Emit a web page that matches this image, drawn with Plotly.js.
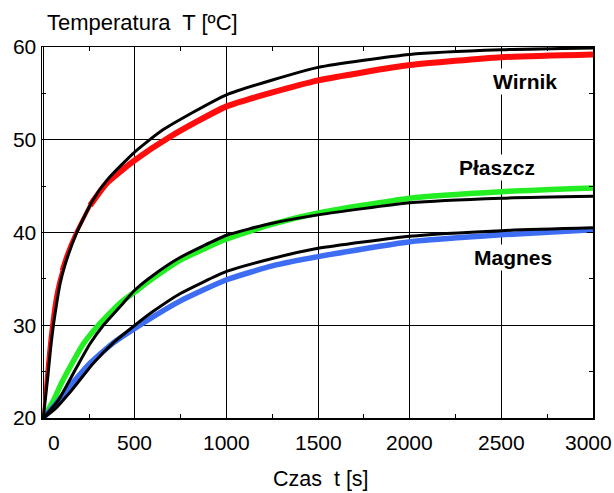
<!DOCTYPE html>
<html>
<head>
<meta charset="utf-8">
<script src="https://cdn.plot.ly/plotly-3.0.1.min.js"></script>
<style>html,body{margin:0;padding:0;background:#fff;}#chart{width:614px;height:493px;}</style>
</head>
<body>
<div id="chart"></div>
<script>
// Wirnik (rotor) – measured and fitted
var wirnikMeasT = [0, 8, 20, 35, 50, 65, 82, 100, 130, 175, 255, 345, 500, 690, 1000, 1500, 2000, 2500, 3000];
var wirnikMeasV = [20, 22.5, 25.5, 28.5, 31, 33, 34.6, 35.9, 37.7, 39.8, 42.9, 45.3, 47.8, 50.3, 53.6, 56.4, 58.05, 58.9, 59.2];
var wirnikFitT = [0, 10, 25, 40, 55, 75, 92, 120, 183, 268, 350, 500, 655, 1000, 1500, 2000, 2500, 3000];
var wirnikFitV = [20, 21.8, 24.5, 27.5, 30, 32.6, 34.5, 36.6, 40, 43.4, 45.7, 48.7, 51.1, 54.85, 57.8, 59.2, 59.7, 59.9];

// Płaszcz (housing) – measured and fitted
var plaszczMeasT = [0, 56, 100, 146, 219, 300, 419, 500, 580, 746, 1000, 1250, 1500, 2000, 2500, 3000];
var plaszczMeasV = [20, 21.9, 23.8, 25.5, 28.0, 30.0, 32.4, 33.6, 34.8, 37.0, 39.3, 40.9, 42.1, 43.7, 44.4, 44.8];
var plaszczFitT = [0, 82, 183, 255, 328, 437, 500, 600, 746, 1000, 1250, 1500, 2000, 2500, 3000];
var plaszczFitV = [20, 21.9, 25.5, 28.0, 30.0, 32.4, 33.8, 35.4, 37.3, 39.7, 41.0, 41.9, 43.2, 43.7, 43.9];

// Magnes (magnet) – measured and fitted
var magnesMeasT = [0, 55, 128, 255, 382, 510, 746, 1000, 1250, 1500, 2000, 2500, 3000];
var magnesMeasV = [20, 21.2, 23.0, 25.9, 28.1, 29.8, 32.6, 34.9, 36.4, 37.4, 39.0, 39.75, 40.3];
var magnesFitT = [0, 60, 155, 273, 382, 500, 600, 746, 1000, 1250, 1500, 2000, 2500, 3000];
var magnesFitV = [20, 20.9, 23.0, 25.9, 28.1, 30.0, 31.5, 33.4, 35.8, 37.2, 38.3, 39.6, 40.2, 40.5];

var xTickVals = [0, 500, 1000, 1500, 2000, 2500, 3000];
var xTickText = ['0', '500', '1000', '1500', '2000', '2500', '3000'];
var yTickVals = [20, 30, 40, 50, 60];
var yTickText = ['20', '30', '40', '50', '60'];

var FONT = 'Liberation Sans, Arial, Helvetica, sans-serif';

function meas(x, y, color, name, w) {
  return {x: x, y: y, mode: 'lines', name: name, showlegend: false, hoverinfo: 'skip',
          line: {color: color, width: w, shape: 'spline', smoothing: 0.5}};
}
function fit(x, y, name) {
  return {x: x, y: y, mode: 'lines', name: name, showlegend: false, hoverinfo: 'skip',
          line: {color: '#000000', width: 3, shape: 'spline', smoothing: 0.5}};
}

var RED = '#ff0d0d', GREEN = '#22ee22', BLUE = '#3d6df2';
// the measured rotor trace is thin during the fast rise and gets thicker (noisier) later
var data = [
  meas(wirnikMeasT.slice(0, 8), wirnikMeasV.slice(0, 8), RED, 'Wirnik – pomiar', 2.5),
  meas(wirnikMeasT.slice(7, 11), wirnikMeasV.slice(7, 11), RED, 'Wirnik – pomiar', 4),
  meas(wirnikMeasT.slice(10), wirnikMeasV.slice(10), RED, 'Wirnik – pomiar', 6),
  meas(plaszczMeasT, plaszczMeasV, GREEN, 'Płaszcz – pomiar', 5.5),
  meas(magnesMeasT, magnesMeasV, BLUE, 'Magnes – pomiar', 5.5),
  fit(wirnikFitT, wirnikFitV, 'Wirnik – model'),
  fit(plaszczFitT, plaszczFitV, 'Płaszcz – model'),
  fit(magnesFitT, magnesFitV, 'Magnes – model')
];

var tickFont = {family: FONT, size: 21, color: '#000000'};
var titleFont = {family: FONT, size: 22, color: '#000000'};
var labelFont = {family: FONT, size: 21, color: '#000000', weight: 'bold'};

var layout = {
  width: 614, height: 493,
  margin: {l: 42, r: 21, t: 47, b: 75, pad: 0},
  paper_bgcolor: '#ffffff', plot_bgcolor: '#ffffff',
  font: {family: FONT, size: 21, color: '#000000'},
  showlegend: false,
  title: {
    text: 'Temperatura\u00a0 T [ºC]', xref: 'container', yref: 'container',
    x: 47 / 614, xanchor: 'left', y: 1 - 22 / 493, yanchor: 'middle',
    pad: {t: 0, b: 0, l: 0, r: 0}, font: titleFont
  },
  xaxis: {
    range: [-7, 3000], tickmode: 'array', tickvals: xTickVals, ticktext: xTickText,
    showticklabels: false,
    showgrid: true, gridcolor: '#000000', gridwidth: 1,
    showline: true, linecolor: '#000000', linewidth: 1.5, mirror: 'ticks',
    ticks: 'inside', ticklen: 6, tickcolor: '#000000', tickwidth: 1,
    minor: {tick0: 0, dtick: 250, ticks: 'inside', ticklen: 4, tickcolor: '#000000', showgrid: false},
    zeroline: false, fixedrange: true
  },
  yaxis: {
    range: [20, 60], tickmode: 'array', tickvals: yTickVals, ticktext: yTickText,
    showgrid: true, gridcolor: '#000000', gridwidth: 1,
    showline: true, linecolor: '#000000', linewidth: 1.5, mirror: 'ticks',
    ticks: 'inside', ticklen: 6, tickcolor: '#000000', tickwidth: 1,
    ticklabeloverflow: 'allow',
    minor: {tick0: 20, dtick: 5, ticks: 'inside', ticklen: 4, tickcolor: '#000000', showgrid: false},
    zeroline: false, tickfont: tickFont, fixedrange: true
  },
  annotations: [
    {text: 'Czas\u00a0 t [s]', xref: 'paper', yref: 'paper', x: 0.507, y: -0.165,
     xanchor: 'center', yanchor: 'middle', showarrow: false, borderpad: 0,
     font: {family: FONT, size: 21.5, color: '#000000'}},
    {text: 'Wirnik', xref: 'x', yref: 'y', x: 2627, y: 56.3, xanchor: 'center', yanchor: 'middle',
     showarrow: false, bgcolor: '#ffffff', borderpad: 1, font: labelFont},
    {text: 'Płaszcz', xref: 'x', yref: 'y', x: 2477, y: 47.0, xanchor: 'center', yanchor: 'middle',
     showarrow: false, bgcolor: '#ffffff', borderpad: 1, font: labelFont},
    {text: 'Magnes', xref: 'x', yref: 'y', x: 2562, y: 37.3, xanchor: 'center', yanchor: 'middle',
     showarrow: false, bgcolor: '#ffffff', borderpad: 1, font: labelFont}
  ]
};

// x tick labels drawn as annotations at the tick values (first and last are nudged inward, as in the source)
var xShift = {0: 11, 3000: -5};
xTickVals.forEach(function (v, i) {
  layout.annotations.push({
    text: xTickText[i], xref: 'x', yref: 'paper', x: v, y: 0,
    xanchor: 'center', yanchor: 'top', xshift: xShift[v] || 0, yshift: -11,
    showarrow: false, font: tickFont
  });
});

Plotly.newPlot('chart', data, layout, {staticPlot: true, displayModeBar: false});
</script>
</body>
</html>
